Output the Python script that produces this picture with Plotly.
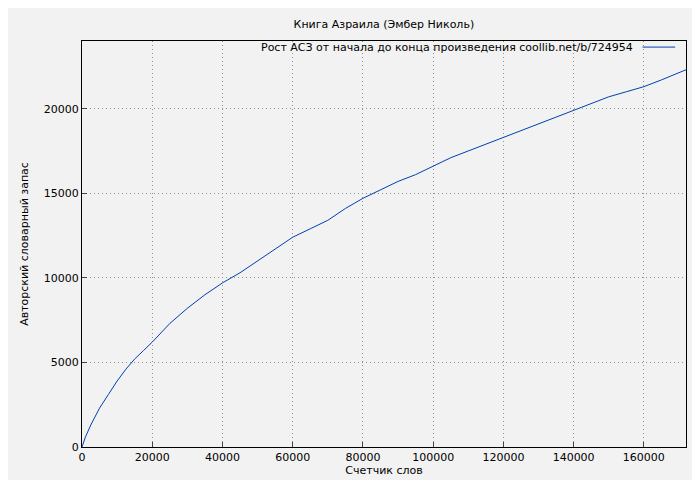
import plotly.graph_objects as go

words = [0, 1000, 2500, 5000, 7500, 10000, 12500, 15000, 17500, 20000, 25000, 30000, 35000, 40000,
         45000, 50000, 55000, 60000, 65000, 70000, 75000, 80000, 85000, 90000, 95000, 100000,
         105000, 110000, 115000, 120000, 125000, 130000, 135000, 140000, 145000, 150000,
         155000, 160000, 165000, 170000, 172000]
vocab = [0, 600, 1300, 2300, 3100, 3900, 4600, 5200, 5700, 6200, 7300, 8200, 9000, 9700,
         10300, 11000, 11700, 12400, 12900, 13400, 14100, 14700, 15200, 15700, 16100, 16600,
         17100, 17500, 17900, 18300, 18700, 19100, 19500, 19900, 20300, 20700,
         21000, 21300, 21700, 22100, 22300]

title = "Книга Азраила (Эмбер Николь)"
legend_text = "Рост АСЗ от начала до конца произведения coollib.net/b/724954"

fig = go.Figure(go.Scatter(x=words, y=vocab, mode="lines",
                           line=dict(color="#0040b0", width=1), showlegend=False))
ax = dict(showline=True, linecolor="black", mirror=True, ticks="inside", ticklen=5,
          showgrid=True, gridcolor="#909090", griddash="1px,3px", gridwidth=1,
          zeroline=False, tickfont=dict(size=11, color="black"), tickformat="d",
          automargin=False)
fig.update_layout(
    width=700, height=480, paper_bgcolor="#f2f2f2", plot_bgcolor="#f2f2f2",
    font=dict(family="DejaVu Sans", size=11, color="black"),
    margin=dict(l=74, r=22, t=33, b=41),
    title=dict(text=title, x=0.537, y=0.975, xanchor="center", font=dict(size=11)),
    xaxis=dict(ax, range=[0, 172000], dtick=20000,
               title=dict(text="Счетчик слов", standoff=2, font=dict(size=11))),
    yaxis=dict(ax, range=[0, 24000], dtick=5000,
               title=dict(text="Авторский словарный запас", standoff=12, font=dict(size=11))),
)
fig.add_annotation(xref="paper", yref="paper", x=0.915, y=0.985, xanchor="right", yanchor="middle",
                   text=legend_text, showarrow=False, font=dict(size=11))
fig.add_shape(type="line", xref="paper", yref="paper", x0=0.928, x1=0.982, y0=0.985, y1=0.985,
              line=dict(color="#0040b0", width=1))
fig.write_html("out.html")
